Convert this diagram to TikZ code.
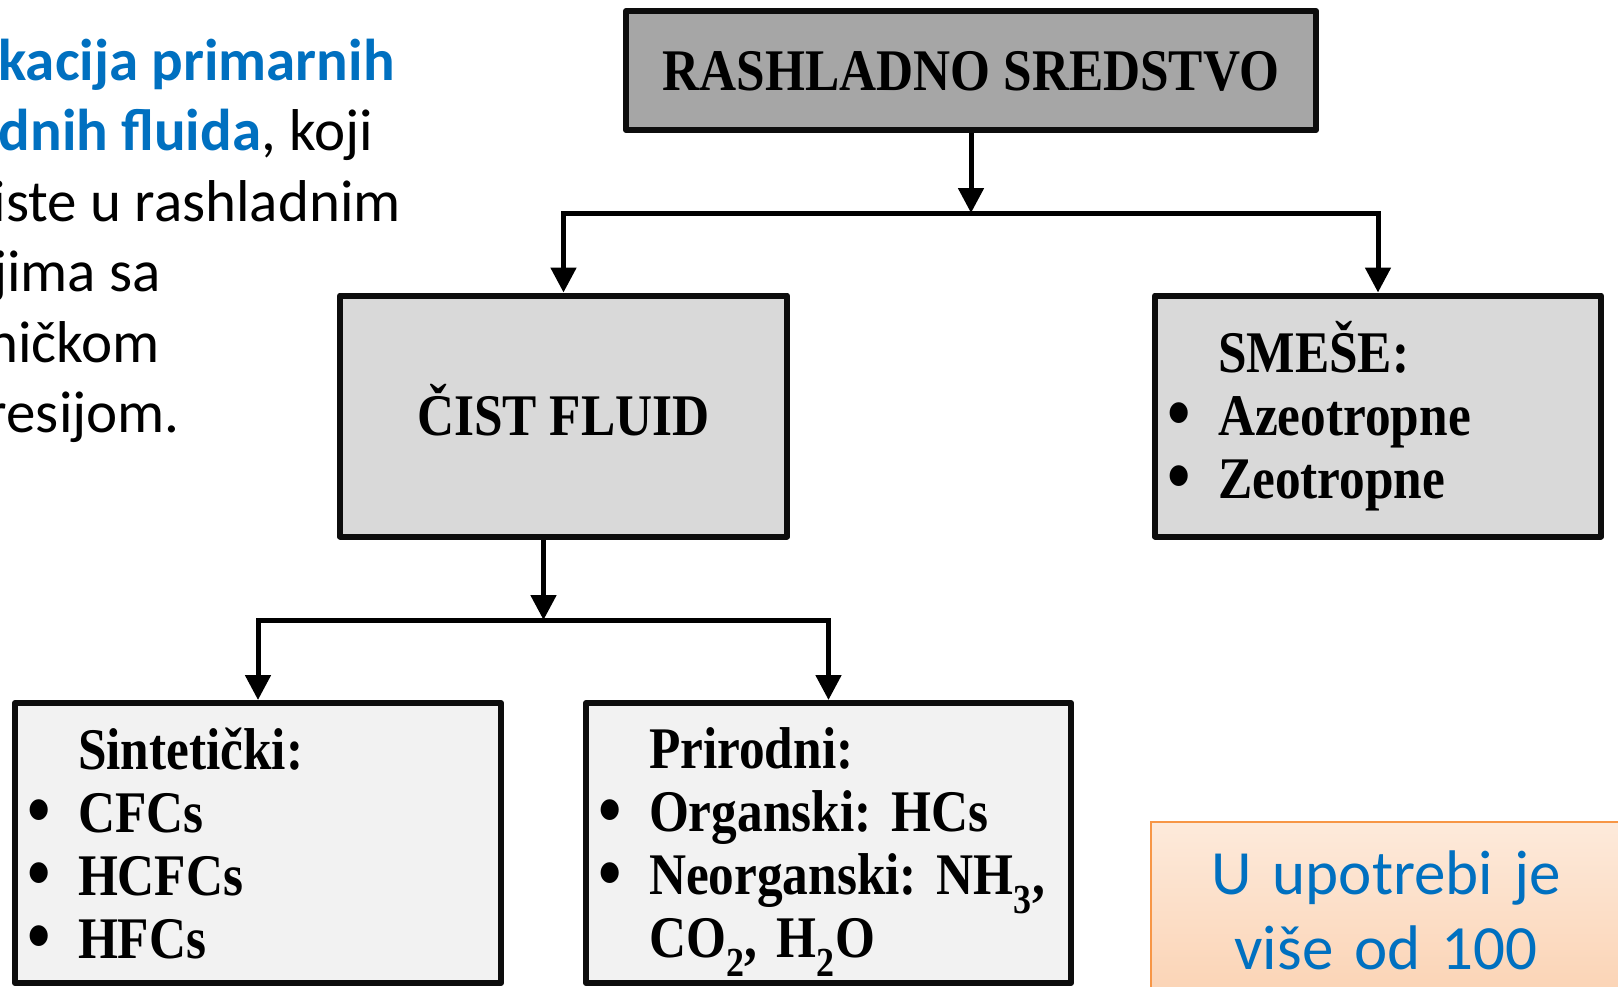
\documentclass[tikz,border=0pt]{standalone}
\usepackage{fontspec}
\usepackage{graphicx}
\usetikzlibrary{arrows.meta,calc}
\setmainfont{Liberation Serif}
\newfontfamily\boxfont[FakeStretch=0.87]{Liberation Serif}
\newfontfamily\calfont{Carlito}
\definecolor{hdrgray}{HTML}{A6A6A6}
\definecolor{midgray}{HTML}{D9D9D9}
\definecolor{lowgray}{HTML}{F2F2F2}
\definecolor{txtblue}{HTML}{0070C0}
\definecolor{peachtop}{HTML}{FDEADB}
\definecolor{peachbot}{HTML}{FBD3B4}
\definecolor{peachline}{HTML}{F79646}
\newcommand{\blt}{\hspace*{-4pt}\makebox[51pt][l]{\smash{\raisebox{-3.5pt}{\scalebox{1.3}{\textbullet}}}}}
\newcommand{\ind}{\hspace*{47pt}}

\begin{document}
\frenchspacing
\begin{tikzpicture}[x=1pt,y=-1pt,
    box/.style={draw=black!95,line width=6pt,line join=round,font=\boxfont\bfseries\fontsize{59}{63}\selectfont,inner ysep=0pt},
    title/.style={box,text height=39pt,text depth=0pt},
    listbox/.style={box,align=left,inner xsep=16pt},
    link/.style={line width=5pt,-{Triangle[length=25pt,width=25pt]}},
    side/.style={font=\calfont\fontsize{59}{70}\selectfont,inner sep=0pt,anchor=base east}]
  \useasboundingbox (0,0) rectangle (1618,986);
  \clip (0,0) rectangle (1618,986);

  % text on the left, cut by the page edge
  \node[side,text=txtblue] (l1) at (395,80) {\bfseries kacija primarnih};
  \node[side] (l2) at (373,150) {\textcolor{txtblue}{\bfseries dnih fluida}, koji};
  \node[side] (l3) at (401,221) {iste u rashladnim};
  \node[side] (l4) at (161,291) {jima sa};
  \node[side] (l5) at (160,362) {ničkom};
  \node[side] (l6) at (180,432) {resijom.};

  \node[title,fill=hdrgray,minimum width=690pt,minimum height=119pt] (rs) at (971,70.5) {RASHLADNO SREDSTVO};

  \node[title,fill=midgray,minimum width=447pt,minimum height=241pt] (cf) at (563.5,416) {ČIST FLUID};
  \node[listbox,fill=midgray,text width=414pt,minimum height=241pt] (sm) at (1378,416)
    {\ind SMEŠE:\\ \blt Azeotropne\\ \blt Zeotropne};

  \node[listbox,fill=lowgray,text width=454pt,minimum height=280pt] (st) at (258,843)
    {\ind Sintetički:\\ \blt CFCs\\ \blt HCFCs\\ \blt HFCs};
  \node[listbox,fill=lowgray,text width=453pt,minimum height=280pt] (pr) at (828.5,843)
    {\ind Prirodni:\\ \blt Organski:~HCs\\ \blt Neorganski:~NH\textsubscript{3},\\ \ind\smash{CO\textsubscript{2},~H\textsubscript{2}O}};

  % note box at the lower right
  \node[draw=peachline,line width=2pt,top color=peachtop,bottom color=peachbot,text=txtblue,
    font=\calfont\fontsize{63}{75}\selectfont,align=center,text width=430pt,inner xsep=20pt,
    inner ysep=29pt,anchor=north] (nb) at (1386,821) {U upotrebi je\\ više od 100};

  % connectors
  \coordinate (j1) at (rs.south |- 0,213);
  \draw[link] (rs.south) -- (j1);
  \draw[link] (j1) -| (cf.north);
  \draw[link] (j1) -| (sm.north);

  \coordinate (cfout) at ($(cf.south)+(-20,0)$);
  \coordinate (j2) at (cfout |- 0,620);
  \draw[link] (cfout) -- (j2);
  \draw[link] (j2) -| (st.north);
  \draw[link] (j2) -| (pr.north);
\end{tikzpicture}
\end{document}
